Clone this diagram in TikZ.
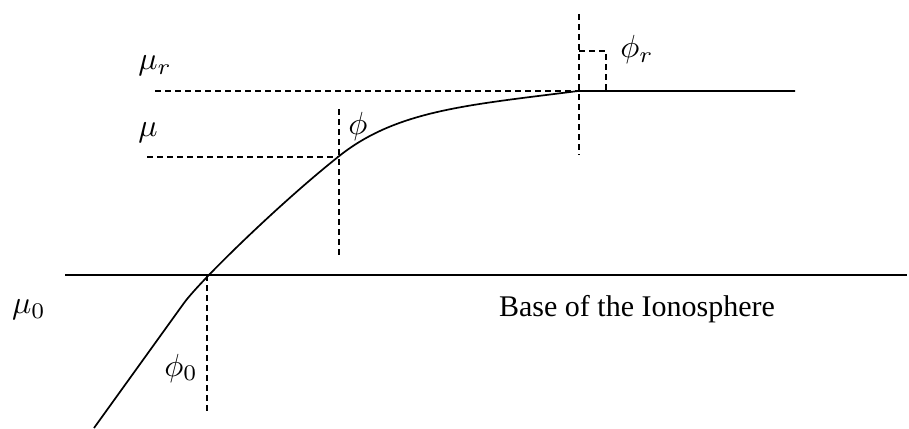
\documentclass[tikz,border=0pt]{standalone}
\usepackage{fontspec}
\usepackage{graphicx}
\setmainfont{Liberation Serif}
\begin{document}
\begin{tikzpicture}[x=1pt,y=-1pt,
  ray/.style={line width=1.7pt},
  guide/.style={line width=1.4pt,dash pattern=on 6pt off 4pt},
  lbl/.style={inner sep=0pt}]
\useasboundingbox (0,0) rectangle (909,428);
% key points
\coordinate (start) at (94,428);
\coordinate (bend) at (184,303);
\coordinate (p0) at (206,275);
\coordinate (p1) at (338,157);
\coordinate (pr) at (578,91);
\coordinate (endr) at (795,91);
\coordinate (baseL) at (65,275);
\coordinate (baseR) at (907,275);
% base of ionosphere
\draw[ray] (baseL) -- (baseR);
% ray path
\draw[ray] (start) -- (bend) .. controls (200,281) and (280,203) .. (p1)
  .. controls (396,110) and (469,105) .. (pr) -- (endr);
% guides
\coordinate (mur0) at (155,91);
\coordinate (mu0) at (147,157);
\draw[guide] (mur0) -- (pr);
\draw[guide] (mu0) -- (p1);
\coordinate (v1t) at (339,109);
\coordinate (v1b) at (339,257);
\draw[guide] (v1t) -- (v1b);
\coordinate (v2t) at (579,14);
\coordinate (v2b) at (579,155);
\draw[guide] (v2t) -- (v2b);
\coordinate (ra1) at (579,51);
\coordinate (ra2) at (606,51);
\coordinate (ra3) at (606,91);
\draw[guide] (ra1) -- (ra2) -- (ra3);
\coordinate (v0t) at (207,275);
\coordinate (v0b) at (207,413);
\draw[guide] (v0t) -- (v0b);
% labels
\node[lbl] (lmur) at (155,66) {\scalebox{3.2}{$\mu_r$}};
\node[lbl] (lmu) at (148,133) {\scalebox{3.2}{$\mu$}};
\node[lbl] (lphi) at (358,126) {\scalebox{3.2}{$\phi$}};
\node[lbl] (lphir) at (637,50) {\scalebox{3.2}{$\phi_r$}};
\node[lbl] (lmu0) at (29,310) {\scalebox{3.2}{$\mu_0$}};
\node[lbl] (lphi0) at (181,368) {\scalebox{3.2}{$\phi_0$}};
\node[inner sep=0pt,font=\fontsize{30}{36}\selectfont] (base) at (637,309) {Base of the Ionosphere};
\end{tikzpicture}
\end{document}
